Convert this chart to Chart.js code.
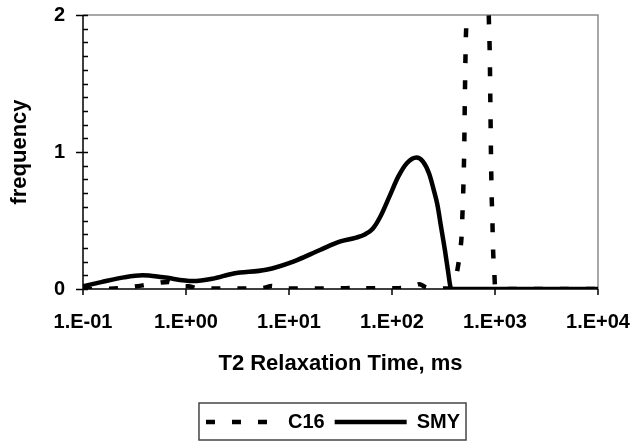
<!DOCTYPE html>
<html>
<head>
<meta charset="utf-8">
<script src="https://cdn.jsdelivr.net/npm/chart.js@4.4.1/dist/chart.umd.min.js"></script>
<style>
  html, body { margin: 0; padding: 0; background: #fff; }
</style>
</head>
<body>
<canvas id="chart" width="640" height="442"></canvas>
<script>
// T2 distributions (time in ms, frequency)
const c16Times = [0.1, 0.18, 0.3, 0.45, 0.68, 0.74, 0.8, 1.05, 1.3, 2, 5.5, 6.8, 8, 20, 40, 46, 52, 110, 160, 185, 210, 260, 340, 370,
  409, 434, 457, 475, 482, 492, 502, 510, 520, 531, 545, 620, 720, 820, 870, 890, 900, 908, 914, 929, 942, 951, 962, 985, 1000, 1020, 10000];
const c16Freq = [0, 0.002, 0.015, 0.035, 0.052, 0.04, 0.025, 0.02, 0.005, 0.004, 0.006, 0.022, 0.005, 0.004, 0.008, 0.02, 0.005, 0.006, 0.02, 0.035, 0.015, 0.004, 0.003, 0.01,
  0.066, 0.15, 0.27, 0.4, 0.53, 0.72, 1.0, 1.4, 1.8, 2.0, 2.4, 3.6, 4.0, 3.2, 2.0, 1.7, 1.4, 1.16, 0.98, 0.67, 0.53, 0.38, 0.25, 0.12, 0.02, 0, 0];

const smyTimes = [0.1, 0.15, 0.25, 0.38, 0.6, 1.17, 1.8, 2.9, 6, 11, 20, 31, 45, 55, 65, 76, 95, 115, 140, 173, 200, 230, 255, 275, 300, 327, 350, 372, 390, 1000, 10000];
const smyFreq = [0.02, 0.05, 0.085, 0.10, 0.085, 0.058, 0.075, 0.113, 0.14, 0.2, 0.285, 0.345, 0.375, 0.40, 0.44, 0.52, 0.68, 0.82, 0.92, 0.96, 0.93, 0.84, 0.72, 0.62, 0.45, 0.28, 0.13, 0.01, 0, 0, 0];

const seriesNames = ['C16', 'SMY'];
const xTickValues = [0.1, 1, 10, 100, 1000, 10000];
const xTickLabels = ['1.E-01', '1.E+00', '1.E+01', '1.E+02', '1.E+03', '1.E+04'];

function toPoints(times, freq) {
  return times.map((t, i) => ({ x: t, y: freq[i] }));
}

Chart.defaults.font.family = "'Liberation Sans', Arial, sans-serif";
Chart.defaults.font.size = 20;
Chart.defaults.font.weight = 'bold';
Chart.defaults.color = '#000';

const LEGEND_SHIFT = 34;

// axis lines, tick marks and the legend frame (Excel look)
const framePlugin = {
  id: 'frame',
  afterUpdate(chart) {
    // legend sits a little right of centre in the original
    const lg = chart.legend;
    lg.left += LEGEND_SHIFT;
    lg.right += LEGEND_SHIFT;
    lg.legendHitBoxes.forEach(b => { b.left += LEGEND_SHIFT; });
  },
  beforeDatasetsDraw(chart) {
    const { ctx, chartArea: a, scales: { x, y } } = chart;
    ctx.save();
    ctx.lineWidth = 1.5;
    ctx.strokeStyle = '#8c8c8c';
    ctx.beginPath();
    ctx.moveTo(a.left, a.top);
    ctx.lineTo(a.right, a.top);
    ctx.lineTo(a.right, a.bottom);
    ctx.stroke();

    ctx.strokeStyle = '#000';
    ctx.beginPath();
    ctx.moveTo(a.left, a.top);
    ctx.lineTo(a.left, a.bottom);
    ctx.lineTo(a.right, a.bottom);
    for (let i = 0; i <= 20; i++) {
      const py = Math.round(y.getPixelForValue(i / 10)) + 0.5;
      if (i % 10 === 0) {
        ctx.moveTo(a.left - 7, py);
      } else {
        ctx.moveTo(a.left, py);
      }
      ctx.lineTo(a.left + 5, py);
    }
    x.ticks.forEach(t => {
      const px = x.getPixelForValue(t.value);
      ctx.moveTo(px, a.bottom);
      ctx.lineTo(px, a.bottom + 6);
    });
    ctx.stroke();
    ctx.restore();
  },
  afterDraw(chart) {
    const boxes = chart.legend.legendHitBoxes;
    if (!boxes || !boxes.length) return;
    const ctx = chart.ctx;
    const l = Math.min(...boxes.map(b => b.left)) - 7;
    const r = Math.max(...boxes.map(b => b.left + b.width)) + 6;
    const t = boxes[0].top - 9;
    const b = boxes[0].top + boxes[0].height + 8;
    ctx.save();
    ctx.strokeStyle = '#444';
    ctx.lineWidth = 1.5;
    ctx.strokeRect(l, t, r - l, b - t);
    ctx.restore();
  }
};

new Chart(document.getElementById('chart'), {
  type: 'line',
  data: {
    datasets: [
      {
        label: seriesNames[0],
        data: toPoints(c16Times, c16Freq),
        borderColor: '#000',
        borderWidth: 4.5,
        borderDash: [9, 17],
        pointRadius: 0,
        fill: false,
        cubicInterpolationMode: 'monotone'
      },
      {
        label: seriesNames[1],
        data: toPoints(smyTimes, smyFreq),
        borderColor: '#000',
        borderWidth: 4.5,
        pointRadius: 0,
        fill: false,
        cubicInterpolationMode: 'monotone'
      }
    ]
  },
  options: {
    responsive: false,
    animation: false,
    layout: { padding: { left: 0, right: 42, top: 15, bottom: 0 } },
    plugins: {
      tooltip: { enabled: false },
      legend: {
        position: 'bottom',
        labels: {
          usePointStyle: true,
          pointStyleWidth: 72,
          padding: 10,
          color: '#000',
          font: { size: 20, weight: 'bold' },
          generateLabels: (chart) => chart.data.datasets.map((ds, i) => ({
            text: ds.label,
            fillStyle: 'transparent',
            strokeStyle: ds.borderColor,
            lineWidth: ds.borderWidth,
            lineDash: ds.borderDash || [],
            lineCap: 'butt',
            pointStyle: 'line',
            fontColor: '#000',
            hidden: false,
            datasetIndex: i
          }))
        }
      }
    },
    scales: {
      x: {
        type: 'logarithmic',
        min: 0.1,
        max: 10000,
        grid: { display: false, drawTicks: false },
        border: { display: false },
        afterBuildTicks: (scale) => {
          scale.ticks = xTickValues.map(v => ({ value: v }));
        },
        afterFit: (scale) => {
          scale.height = 113;
          scale.paddingLeft = 0;
          scale.paddingRight = 0;
        },
        ticks: {
          padding: 21,
          maxRotation: 0,
          autoSkip: false,
          callback: (v) => xTickLabels[xTickValues.findIndex(t => Math.abs(t - v) < t * 1e-6)]
        },
        title: {
          display: true,
          text: 'T2 Relaxation Time, ms',
          padding: { top: 0, bottom: 25 },
          font: { size: 22, weight: 'bold' }
        }
      },
      y: {
        min: 0,
        max: 2,
        grid: { display: false, drawTicks: false },
        border: { display: false },
        afterFit: (scale) => {
          scale.width = 83;
          scale.paddingTop = 0;
          scale.paddingBottom = 0;
        },
        ticks: { stepSize: 1, padding: 18 },
        title: {
          display: true,
          text: 'frequency',
          padding: { top: 7, bottom: 0 },
          font: { size: 22, weight: 'bold' }
        }
      }
    }
  },
  plugins: [framePlugin]
});
</script>
</body>
</html>
